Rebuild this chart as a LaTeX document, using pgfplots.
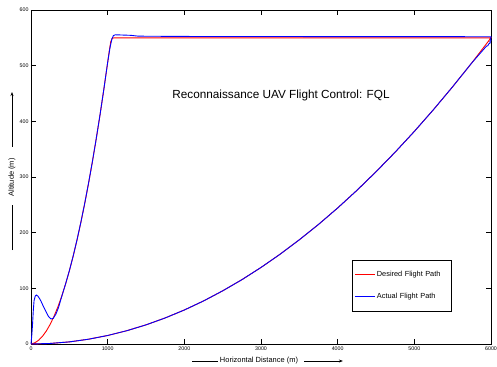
\documentclass[border=0pt]{standalone}
\usepackage{fontspec}
\setmainfont{Liberation Sans}
\usepackage{pgfplots}
\pgfplotsset{compat=1.18}
\usetikzlibrary{arrows.meta}
\begin{document}
\begin{tikzpicture}
\begin{axis}[
  scale only axis,
  width=460bp, height=334bp,
  xmin=0, xmax=6000, ymin=0, ymax=600,
  xtick={0,1000,2000,3000,4000,5000,6000},
  ytick={0,100,200,300,400,500,600},
  scaled x ticks=false,
  /pgf/number format/assume math mode=true,
  /pgf/number format/1000 sep={},
  tick label style={font=\fontsize{5.3}{6}\selectfont},
  xticklabel style={yshift=1bp},
  yticklabel style={xshift=1bp},
  tick align=inside,
  major tick length=5bp,
  axis line style={line width=0.9pt},
  tick style={line width=0.6pt, black},
  legend style={at={(0.697,0.2515)}, anchor=north west,
    font=\fontsize{7.4}{9}\selectfont, draw=black, line width=0.8pt,
    inner xsep=3bp, inner ysep=11bp, row sep=15bp,
    nodes={inner xsep=1bp, inner ysep=0bp, text width=70bp}},
  legend cell align=left,
  legend image code/.code={\draw[#1] (0bp,0bp) -- (20bp,0bp);},
  clip=false,
]
\addplot[color=red, draw=red, line width=0.9pt] coordinates {
(0,0) (50,2.2) (100,6.8) (150,13.9) (200,23.4) (250,35.3) (300,49.7) (350,66.4)
(400,85.6) (450,107.3) (500,131.3) (550,157.8) (600,186.7) (650,218.1) (700,251.9)
(750,288.1) (800,326.7) (850,367.8) (900,411.2) (950,457.2) (1000,505.5) (1020,525.5)
(1040,543) (1060,549) (1080,550) (6000,550)
(5750,505.1) (5500,462.2) (5250,421.1) (5000,381.9) (4750,344.7) (4500,309.4)
(4250,275.9) (4000,244.4) (3750,214.8) (3500,187.2) (3250,161.4) (3000,137.5)
(2750,115.5) (2500,95.5) (2250,77.3) (2000,61.1) (1750,46.8) (1500,34.4)
(1250,23.9) (1000,15.3) (750,8.6) (500,3.8) (250,1.0) (0,0)
};
\addlegendentry{Desired Flight Path}
\addplot[color=blue, draw=blue, line width=0.9pt] coordinates {
(0,0) (10,15) (20,35) (30,60) (40,78) (55,86) (70,88) (90,86) (110,82) (130,77)
(160,68) (196,58) (230,49) (260,45) (290,46) (326,54) (360,66) (400,85)
(450,107.5) (500,131.5) (550,158) (600,187) (650,218.5) (700,252.3) (750,288.5)
(800,327) (850,368.2) (900,411.6) (950,457.6) (1000,506) (1030,532) (1055,548)
(1075,554) (1100,555.5) (1200,555) (1300,554.5) (1400,553) (2000,552.5) (6000,552)
(5995,548) (5998,545) (5985,543) (5990,541) (5970,539) (5960,536) (5940,535)
(5750,505.1) (5500,462.2) (5250,421.1) (5000,381.9) (4750,344.7) (4500,309.4)
(4250,275.9) (4000,244.4) (3750,214.8) (3500,187.2) (3250,161.4) (3000,137.5)
(2750,115.5) (2500,95.5) (2250,77.3) (2000,61.1) (1750,46.8) (1500,34.4)
(1250,23.9) (1000,15.3) (750,8.6) (500,3.8) (250,1.0) (0,0)
};
\addlegendentry{Actual Flight Path}
\node[font=\fontsize{11.8}{14}\selectfont] at (axis description cs:0.5435,0.7455)
  {Reconnaissance UAV Flight Control: FQL};
% x label with arrows
\node[font=\fontsize{7.5}{9}\selectfont] at (axis description cs:0.4957,-0.0509)
  {Horizontal Distance (m)};
\draw[line width=0.6pt] (axis description cs:0.350,-0.0509) -- (axis description cs:0.4065,-0.0509);
\draw[line width=0.6pt,-{Stealth[length=4bp,width=3bp]}] (axis description cs:0.5935,-0.0509) -- (axis description cs:0.678,-0.0509);
% y label with arrows
\node[font=\fontsize{7.5}{9}\selectfont, rotate=90] at (axis description cs:-0.0413,0.4985)
  {Altitude (m)};
\draw[line width=0.6pt] (axis description cs:-0.0413,0.281) -- (axis description cs:-0.0413,0.416);
\draw[line width=0.6pt,-{Stealth[length=4bp,width=3bp]}] (axis description cs:-0.0413,0.590) -- (axis description cs:-0.0413,0.7545);
\end{axis}
\pgfresetboundingbox
\path (current axis.south west) ++(-31bp,-22bp) coordinate (bbA);
\path (current axis.north east) ++(6bp,10bp) coordinate (bbB);
\path[use as bounding box] (bbA) rectangle (bbB);
\end{tikzpicture}
\end{document}
